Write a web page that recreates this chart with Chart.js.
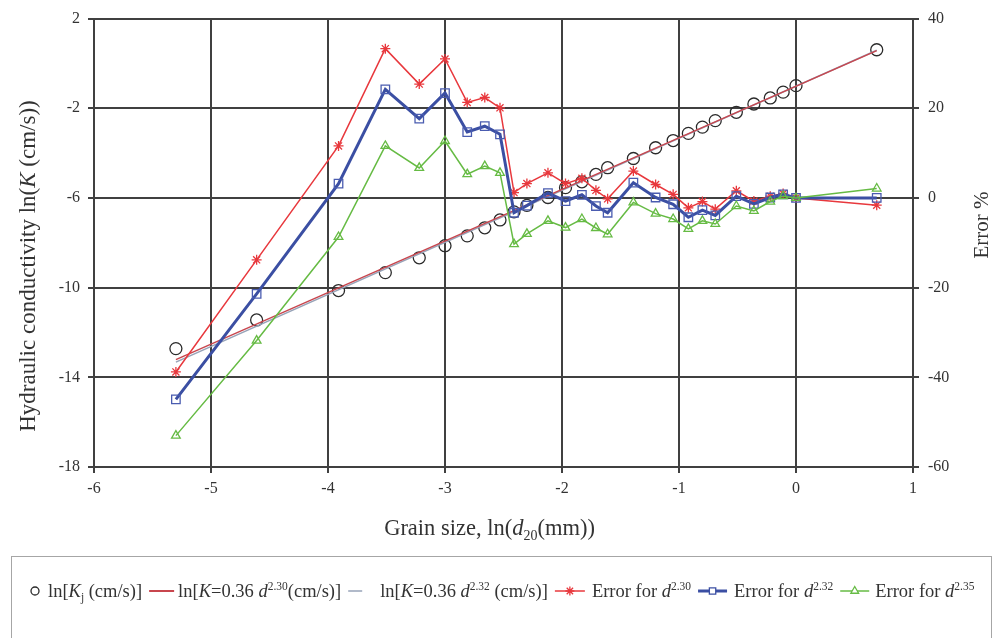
<!DOCTYPE html>
<html>
<head>
<meta charset="utf-8">
<script src="https://cdn.jsdelivr.net/npm/chart.js@4/dist/chart.umd.min.js"></script>
<style>
  html, body { margin: 0; padding: 0; background: #fff; }
  #wrap { width: 998px; height: 638px; }
</style>
</head>
<body>
<div id="wrap"><canvas id="grainChart" width="998" height="638"></canvas></div>
<script>
// ln of grain size d20 (mm)
const lnD = [-5.30, -4.61, -3.91, -3.51, -3.22, -3.00, -2.81, -2.66, -2.53, -2.41,
             -2.30, -2.12, -1.97, -1.83, -1.71, -1.61, -1.39, -1.20, -1.05, -0.92,
             -0.80, -0.69, -0.51, -0.36, -0.22, -0.11, 0.00, 0.69];

// measured ln(Kj), cm/s
const lnKj = [-12.72, -11.44, -10.13, -9.33, -8.67, -8.13, -7.69, -7.33, -6.98, -6.62,
              -6.33, -5.98, -5.54, -5.28, -4.95, -4.65, -4.24, -3.76, -3.44, -3.12,
              -2.84, -2.55, -2.18, -1.81, -1.54, -1.28, -0.99, 0.61];

// fitted lines ln[K = 0.36 d^n], end points
const fitX = [-5.30, 0.69];
const fit230 = [-13.21, 0.57];
const fit232 = [-13.32, 0.59];

// error %, per exponent
const err230 = [-38.8, -13.8, 11.6, 33.3, 25.4, 31.0, 21.3, 22.4, 20.1, 1.2,
                3.2, 5.6, 3.2, 4.4, 1.7, -0.2, 6.0, 3.0, 0.8, -2.2,
                -0.8, -2.5, 1.6, -0.7, 0.4, 1.0, 0.0, -1.6];
const err232 = [-44.9, -21.4, 3.2, 24.2, 17.7, 23.4, 14.7, 16.0, 14.2, -3.3,
                -1.7, 1.1, -0.7, 0.7, -1.8, -3.3, 3.4, 0.1, -1.4, -4.3,
                -2.7, -3.9, 0.4, -1.3, 0.1, 0.8, 0.0, 0.0];
const err235 = [-53.0, -31.8, -8.7, 11.6, 6.7, 12.7, 5.3, 7.1, 5.6, -10.3,
                -8.0, -5.1, -6.6, -4.7, -6.7, -8.1, -1.0, -3.5, -4.7, -6.9,
                -5.1, -5.8, -1.8, -2.9, -0.8, 0.4, 0.0, 2.1];

const xTicks = [-6, 1];
const kTicks = [-18, 2];
const errTicks = [-60, 40];

const RED = '#e8383d';
const BLUE = '#3b4fa3';
const GREEN = '#66bb44';
const FIT_RED = '#c8464e';
const FIT_GRAY = '#97a3b8';
const GRID = '#404040';
const SERIF = '"Liberation Serif", "Times New Roman", serif';

const pts = (xs, ys) => xs.map((x, i) => ({ x: x, y: ys[i] }));

// mixed-style text: italic letters, sub/superscripts
function segFont(seg, size) {
    const sz = seg.sub || seg.sup ? size * 0.62 : size;
    return (seg.it ? 'italic ' : '') + sz + 'px ' + SERIF;
}
function richWidth(ctx, segs, size) {
    let w = 0;
    segs.forEach(s => { ctx.font = segFont(s, size); w += ctx.measureText(s.t).width; });
    return w;
}
function drawRich(ctx, segs, x, y, size) {
    ctx.textAlign = 'left';
    ctx.textBaseline = 'alphabetic';
    segs.forEach(s => {
        ctx.font = segFont(s, size);
        let dy = 0;
        if (s.sub) dy = size * 0.22;
        if (s.sup) dy = -size * 0.36;
        ctx.fillText(s.t, x, y + dy);
        x += ctx.measureText(s.t).width;
    });
    return x;
}

const legendItems = [
    { mark: 'circle', w: 12, gap: 7, segs: [{ t: 'ln[' }, { t: 'K', it: 1 }, { t: 'j', sub: 1 }, { t: ' (cm/s)]' }] },
    { mark: 'line', color: FIT_RED, lw: 2, w: 25, gap: 4, segs: [{ t: 'ln[' }, { t: 'K', it: 1 }, { t: '=0.36 ' }, { t: 'd', it: 1 }, { t: '2.30', sup: 1 }, { t: '(cm/s)]' }] },
    { mark: 'line', color: FIT_GRAY, lw: 1.5, w: 14, gap: 18, segs: [{ t: 'ln[' }, { t: 'K', it: 1 }, { t: '=0.36 ' }, { t: 'd', it: 1 }, { t: '2.32', sup: 1 }, { t: ' (cm/s)]' }] },
    { mark: 'star', color: RED, lw: 1.5, w: 30, gap: 7, segs: [{ t: 'Error for ' }, { t: 'd', it: 1 }, { t: '2.30', sup: 1 }] },
    { mark: 'rect', color: BLUE, lw: 3, w: 29, gap: 7, segs: [{ t: 'Error for ' }, { t: 'd', it: 1 }, { t: '2.32', sup: 1 }] },
    { mark: 'triangle', color: GREEN, lw: 1.5, w: 29, gap: 6, segs: [{ t: 'Error for ' }, { t: 'd', it: 1 }, { t: '2.35', sup: 1 }] }
];

const titlesAndLegend = {
    id: 'titlesAndLegend',
    afterDraw(chart) {
        const ctx = chart.ctx;
        ctx.save();
        ctx.fillStyle = '#333';

        // x title
        const xt = [{ t: 'Grain size, ln(' }, { t: 'd', it: 1 }, { t: '20', sub: 1 }, { t: '(mm))' }];
        const area = chart.chartArea;
        const cx = (area.left + area.right) / 2 - 14;
        drawRich(ctx, xt, cx - richWidth(ctx, xt, 22.5) / 2, 535, 22.5);

        // left title
        const yt = [{ t: 'Hydraulic conductivity ln(' }, { t: 'K', it: 1 }, { t: ' (cm/s))' }];
        ctx.save();
        ctx.translate(35, 266);
        ctx.rotate(-Math.PI / 2);
        drawRich(ctx, yt, -richWidth(ctx, yt, 23) / 2, 0, 23);
        ctx.restore();

        // right title
        const rt = [{ t: 'Error %' }];
        ctx.save();
        ctx.translate(988, 225);
        ctx.rotate(-Math.PI / 2);
        drawRich(ctx, rt, -richWidth(ctx, rt, 21) / 2, 0, 21);
        ctx.restore();

        // legend box
        ctx.strokeStyle = '#a6a6a6';
        ctx.lineWidth = 1;
        ctx.strokeRect(11.5, 556.5, 980, 200);

        let x = 29;
        const base = 597, mid = 591;
        legendItems.forEach(item => {
            ctx.save();
            if (item.mark === 'circle') {
                ctx.strokeStyle = '#2b2b2b';
                ctx.lineWidth = 1.3;
                ctx.beginPath();
                ctx.arc(x + item.w / 2, mid, 4, 0, Math.PI * 2);
                ctx.stroke();
            } else {
                ctx.strokeStyle = item.color;
                ctx.lineWidth = item.lw;
                ctx.beginPath();
                ctx.moveTo(x, mid);
                ctx.lineTo(x + item.w, mid);
                ctx.stroke();
                if (item.mark !== 'line') {
                    ctx.lineWidth = 1.3;
                    ctx.fillStyle = '#fff';
                    Chart.helpers.drawPoint(ctx, { pointStyle: item.mark, radius: 4.5, rotation: 0, borderWidth: 1.3 },
                        x + item.w / 2, mid);
                }
            }
            ctx.restore();
            ctx.fillStyle = '#333';
            const end = drawRich(ctx, item.segs, x + item.w + item.gap, base, 18.5);
            x = end + 7;
        });
        ctx.restore();
    }
};

const ctx = document.getElementById('grainChart').getContext('2d');

new Chart(ctx, {
    type: 'scatter',
    data: {
        datasets: [
            {
                label: 'Error d2.35',
                data: pts(lnD, err235),
                yAxisID: 'y1',
                showLine: true,
                borderColor: GREEN,
                borderWidth: 1.5,
                pointStyle: 'triangle',
                pointRadius: 5,
                pointBorderWidth: 1.3,
                pointBackgroundColor: 'rgba(255,255,255,0)',
                pointBorderColor: GREEN,
                order: 1
            },
            {
                label: 'Error d2.32',
                data: pts(lnD, err232),
                yAxisID: 'y1',
                showLine: true,
                borderColor: BLUE,
                borderWidth: 3,
                pointStyle: 'rect',
                pointRadius: 6,
                pointBorderWidth: 1.3,
                pointBackgroundColor: 'rgba(255,255,255,0)',
                pointBorderColor: '#4a5cb0',
                order: 2
            },
            {
                label: 'Error d2.30',
                data: pts(lnD, err230),
                yAxisID: 'y1',
                showLine: true,
                borderColor: RED,
                borderWidth: 1.5,
                pointStyle: 'star',
                pointRadius: 5,
                pointBorderWidth: 1.3,
                pointBorderColor: RED,
                order: 3
            },
            {
                label: 'Fit d2.32',
                data: pts(fitX, fit232),
                yAxisID: 'y',
                showLine: true,
                borderColor: FIT_GRAY,
                borderWidth: 1.5,
                pointRadius: 0,
                order: 5
            },
            {
                label: 'Fit d2.30',
                data: pts(fitX, fit230),
                yAxisID: 'y',
                showLine: true,
                borderColor: FIT_RED,
                borderWidth: 1.5,
                pointRadius: 0,
                order: 4
            },
            {
                label: 'lnKj',
                data: pts(lnD, lnKj),
                yAxisID: 'y',
                showLine: false,
                pointStyle: 'circle',
                pointRadius: 6,
                pointBorderWidth: 1.3,
                pointBorderColor: '#2b2b2b',
                pointBackgroundColor: 'rgba(255,255,255,0)',
                order: 6
            }
        ]
    },
    options: {
        responsive: false,
        animation: false,
        events: [],
        layout: { padding: { top: 17, left: 0, right: 0, bottom: 0 } },
        plugins: {
            legend: { display: false },
            tooltip: { enabled: false }
        },
        scales: {
            x: {
                type: 'linear',
                min: xTicks[0],
                max: xTicks[1],
                afterFit(s) { s.height = 171; },
                ticks: { stepSize: 1, color: '#333', padding: 6, font: { family: SERIF, size: 16 } },
                grid: { color: GRID, lineWidth: 2, tickLength: 6 },
                border: { color: GRID, width: 2 }
            },
            y: {
                position: 'left',
                min: kTicks[0],
                max: kTicks[1],
                afterFit(s) { s.width = 94; },
                ticks: { stepSize: 4, color: '#333', padding: 8, font: { family: SERIF, size: 16 } },
                grid: { color: GRID, lineWidth: 2, tickLength: 6 },
                border: { color: GRID, width: 2 }
            },
            y1: {
                position: 'right',
                min: errTicks[0],
                max: errTicks[1],
                afterFit(s) { s.width = 85; },
                ticks: { stepSize: 20, color: '#333', padding: 9, font: { family: SERIF, size: 16 } },
                grid: { drawOnChartArea: false, color: GRID, lineWidth: 2, tickLength: 6 },
                border: { color: GRID, width: 2 }
            }
        }
    },
    plugins: [titlesAndLegend]
});
</script>
</body>
</html>
